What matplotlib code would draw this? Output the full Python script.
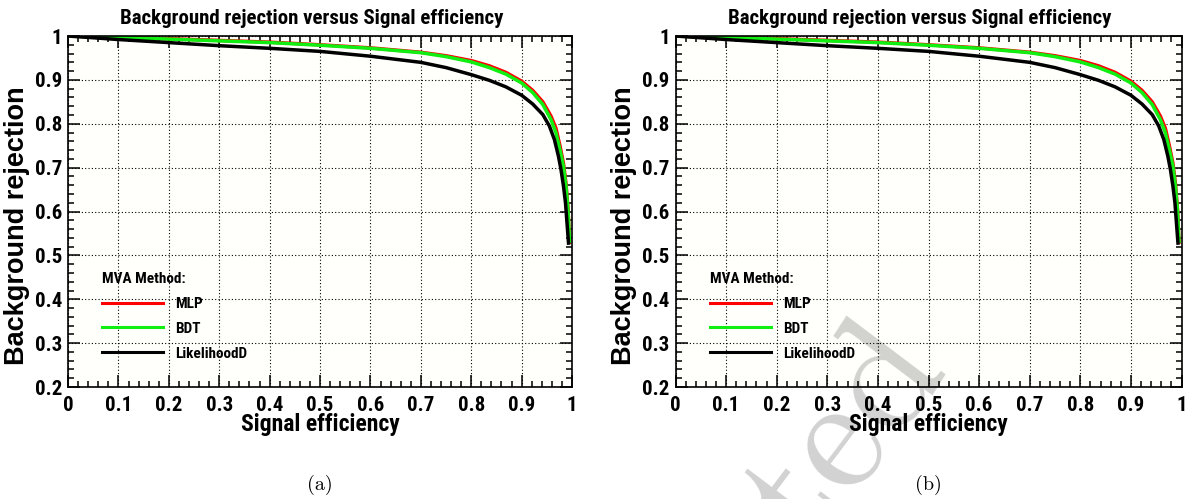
import numpy as np
import matplotlib
matplotlib.use("Agg")
import matplotlib.pyplot as plt
from matplotlib import font_manager
from matplotlib.ticker import MultipleLocator, FormatStrFormatter

# ROC curves: signal efficiency vs background rejection
eff_mlp = [0.0, 0.1, 0.2, 0.3, 0.4, 0.5, 0.6, 0.7, 0.75, 0.8, 0.836, 0.869, 0.9,
           0.922, 0.942, 0.958, 0.968, 0.976, 0.983, 0.988, 0.992, 0.995]
rej_mlp = [1.0, 0.997, 0.994, 0.990, 0.986, 0.980, 0.973, 0.963, 0.955, 0.944, 0.932, 0.917, 0.897,
           0.876, 0.850, 0.818, 0.790, 0.750, 0.710, 0.664, 0.606, 0.530]

eff_bdt = [0.0, 0.1, 0.2, 0.3, 0.4, 0.5, 0.6, 0.7, 0.75, 0.8, 0.836, 0.869, 0.9,
           0.922, 0.942, 0.958, 0.968, 0.976, 0.983, 0.988, 0.992, 0.995]
rej_bdt = [1.0, 0.997, 0.993, 0.989, 0.985, 0.979, 0.972, 0.962, 0.953, 0.941, 0.928, 0.913, 0.893,
           0.871, 0.844, 0.810, 0.780, 0.741, 0.703, 0.658, 0.604, 0.532]

eff_lik = [0.0, 0.05, 0.1, 0.2, 0.3, 0.4, 0.5, 0.6, 0.7, 0.75, 0.8, 0.836, 0.869, 0.9,
           0.922, 0.942, 0.955, 0.965, 0.973, 0.978, 0.983, 0.987, 0.990, 0.993]
rej_lik = [1.0, 0.996, 0.992, 0.985, 0.978, 0.972, 0.965, 0.954, 0.940, 0.928, 0.912, 0.899, 0.884, 0.865,
           0.845, 0.821, 0.795, 0.764, 0.726, 0.696, 0.658, 0.620, 0.574, 0.528]

methods = ["MLP", "BDT", "LikelihoodD"]
colors = ["#ff0000", "#11ee11", "#000000"]
panels = ["(a)", "(b)"]


def pick_family(wanted, fallback):
    have = {f.name for f in font_manager.fontManager.ttflist}
    for name in wanted:
        if name in have:
            return [name] + fallback
    return fallback


narrow = pick_family(["Liberation Sans Narrow", "Nimbus Sans Narrow", "Arial Narrow",
                      "Roboto Condensed", "Barlow Semi Condensed", "Asap Condensed"],
                     ["Liberation Sans", "DejaVu Sans"])
wide = ["Liberation Sans", "DejaVu Sans"]


def draw_roc(ax):
    curves = [(eff_mlp, rej_mlp), (eff_bdt, rej_bdt), (eff_lik, rej_lik)]
    for (x, y), name, c in zip(curves, methods, colors):
        ax.plot(x, y, color=c, lw=2.5, label=name, solid_joinstyle="round")

    ax.set_xlim(0, 1)
    ax.set_ylim(0.2, 1)
    ax.set_facecolor("#fffffb")
    ax.xaxis.set_major_locator(MultipleLocator(0.1))
    ax.xaxis.set_minor_locator(MultipleLocator(0.02))
    ax.yaxis.set_major_locator(MultipleLocator(0.1))
    ax.yaxis.set_minor_locator(MultipleLocator(0.02))
    ax.xaxis.set_major_formatter(FormatStrFormatter("%g"))
    ax.yaxis.set_major_formatter(FormatStrFormatter("%g"))
    ax.tick_params(which="both", direction="in", top=True, right=True, width=1.1)
    ax.tick_params(which="major", length=8.5)
    ax.tick_params(which="minor", length=4)
    ax.tick_params(axis="x", pad=6.5)
    ax.tick_params(axis="y", pad=4.3)
    for lab in ax.get_xticklabels() + ax.get_yticklabels():
        lab.set_fontfamily(narrow)
        lab.set_fontweight("bold")
        lab.set_fontsize(15)
    for s in ax.spines.values():
        s.set_linewidth(1.2)
    ax.grid(True, which="major", color="k", linestyle=(0, (1, 2)), linewidth=0.8)

    ax.text(0.483, 1.051, "Background rejection versus Signal efficiency",
            transform=ax.transAxes, ha="center", va="center",
            family=narrow, weight="bold", fontsize=15)
    ax.set_xlabel("Signal efficiency", family=narrow, weight="bold", fontsize=17, va="center")
    ax.xaxis.set_label_coords(0.5, -0.108)
    ax.set_ylabel("Background rejection", family=wide, weight="bold", fontsize=19.5, va="center")
    ax.yaxis.set_label_coords(-0.101, 0.46)

    leg = ax.legend(loc="upper left", bbox_to_anchor=(0.0675, 0.3275), frameon=False,
                    title="MVA Method:", alignment="left", borderpad=0, borderaxespad=0,
                    handlelength=4.0, handletextpad=0.8, labelspacing=0.71,
                    prop={"family": narrow, "weight": "bold", "size": 11})
    leg.get_title().set_fontfamily(narrow)
    leg.get_title().set_fontweight("bold")
    leg.get_title().set_fontsize(11)
    for h in leg.get_lines():
        h.set_linewidth(2.2)


fig = plt.figure(figsize=(11.92, 4.99), dpi=100)
ax_a = fig.add_axes([0.0571, 0.2244, 0.4228, 0.7034])
ax_b = fig.add_axes([0.5667, 0.2244, 0.4245, 0.7034])

for ax, tag in zip([ax_a, ax_b], panels):
    draw_roc(ax)
    ax.text(0.5, -0.278, tag, transform=ax.transAxes, ha="center", va="center",
            family="cmr10", fontsize=14.5)

# faint stamp across the lower middle
fig.text(0.4614, -0.7896, "Accepted", rotation=53, rotation_mode="anchor",
         ha="left", va="baseline", family="cmr10", fontsize=118,
         color="k", alpha=0.18, zorder=10)

fig.savefig("out.png", dpi=100)
